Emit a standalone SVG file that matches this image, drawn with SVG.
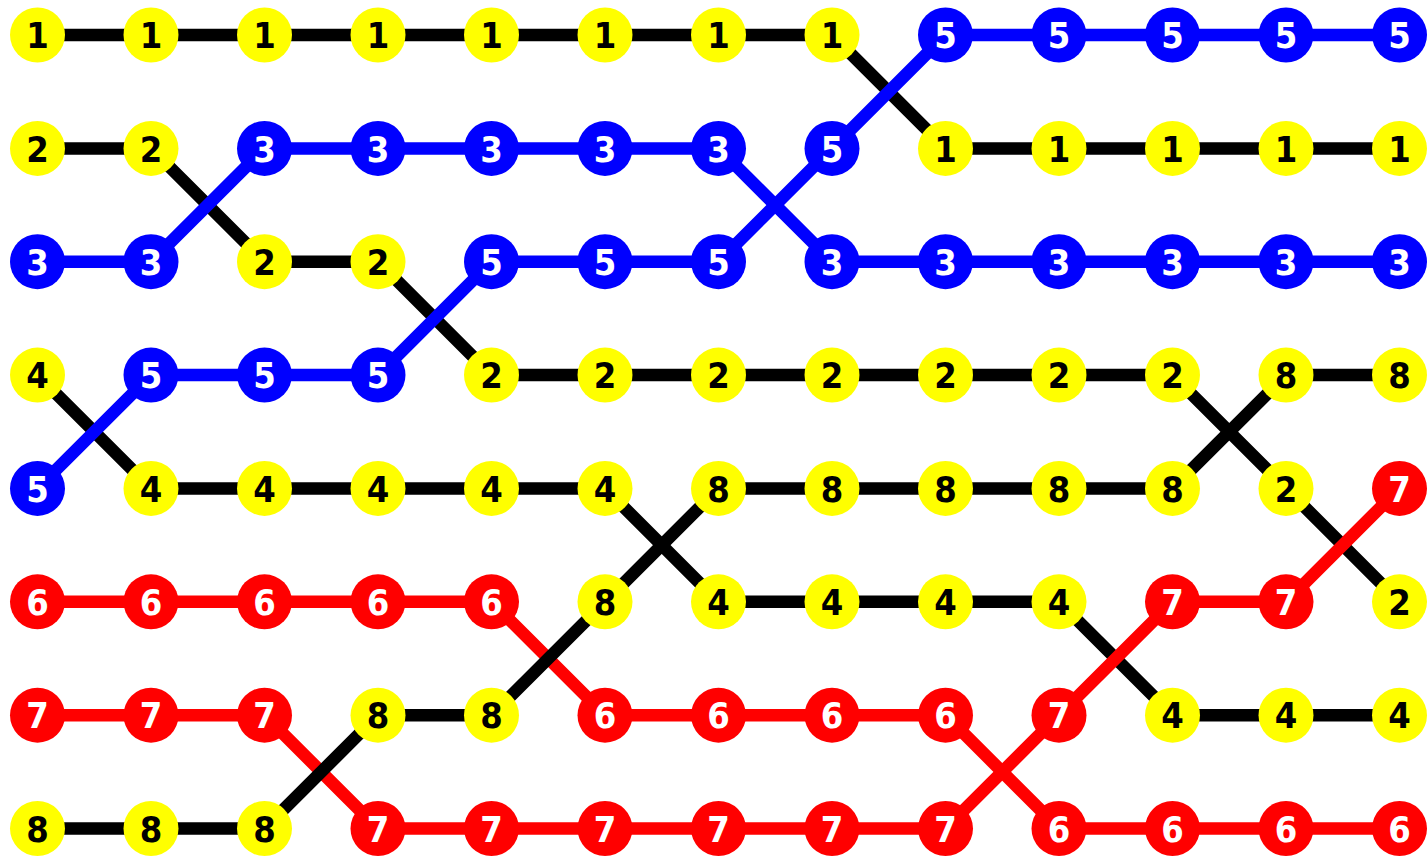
<svg xmlns="http://www.w3.org/2000/svg" width="1427" height="858" viewBox="0 0 1427 858">
<style>
.e{fill:none;stroke-width:12.5;stroke-linejoin:round}
.k{stroke:#000}.eb{stroke:#0000ff}.er{stroke:#ff0000}
text{font-family:"DejaVu Sans Condensed","DejaVu Sans",sans-serif;font-stretch:condensed;font-weight:bold;font-size:36px;text-anchor:middle}
.y circle{fill:#ffff00}.y text{fill:#000}
.b circle{fill:#0000ff}.b text{fill:#fff}
.r circle{fill:#ff0000}.r text{fill:#fff}
</style>
<rect width="1427" height="858" fill="#fff"/>
<g id="connectors">
<polyline class="e k" points="37.5,35 832,35 945.5,148.4 1399.5,148.4"/>
<polyline class="e k" points="37.5,148.4 151,148.4 264.5,261.7 378,261.7 491.5,375.1 1172.5,375.1 1286,488.4 1399.5,601.8"/>
<polyline class="e eb" points="37.5,261.7 151,261.7 264.5,148.4 718.5,148.4 832,261.7 1399.5,261.7"/>
<polyline class="e k" points="37.5,375.1 151,488.4 605,488.4 718.5,601.8 1059,601.8 1172.5,715.2 1399.5,715.2"/>
<polyline class="e eb" points="37.5,488.4 151,375.1 378,375.1 491.5,261.7 718.5,261.7 832,148.4 945.5,35 1399.5,35"/>
<polyline class="e er" points="37.5,601.8 491.5,601.8 605,715.2 945.5,715.2 1059,828.5 1399.5,828.5"/>
<polyline class="e er" points="37.5,715.2 264.5,715.2 378,828.5 945.5,828.5 1059,715.2 1172.5,601.8 1286,601.8 1399.5,488.4"/>
<polyline class="e k" points="37.5,828.5 264.5,828.5 378,715.2 491.5,715.2 605,601.8 718.5,488.4 1172.5,488.4 1286,375.1 1399.5,375.1"/>
</g>
<g id="nodes">
<g id="r0c0" class="y" transform="translate(37.5,35)"><circle r="27.5"/><text y="13.2">1</text></g>
<g id="r0c1" class="y" transform="translate(151,35)"><circle r="27.5"/><text y="13.2">1</text></g>
<g id="r0c2" class="y" transform="translate(264.5,35)"><circle r="27.5"/><text y="13.2">1</text></g>
<g id="r0c3" class="y" transform="translate(378,35)"><circle r="27.5"/><text y="13.2">1</text></g>
<g id="r0c4" class="y" transform="translate(491.5,35)"><circle r="27.5"/><text y="13.2">1</text></g>
<g id="r0c5" class="y" transform="translate(605,35)"><circle r="27.5"/><text y="13.2">1</text></g>
<g id="r0c6" class="y" transform="translate(718.5,35)"><circle r="27.5"/><text y="13.2">1</text></g>
<g id="r0c7" class="y" transform="translate(832,35)"><circle r="27.5"/><text y="13.2">1</text></g>
<g id="r0c8" class="b" transform="translate(945.5,35)"><circle r="27.5"/><text y="13.2">5</text></g>
<g id="r0c9" class="b" transform="translate(1059,35)"><circle r="27.5"/><text y="13.2">5</text></g>
<g id="r0c10" class="b" transform="translate(1172.5,35)"><circle r="27.5"/><text y="13.2">5</text></g>
<g id="r0c11" class="b" transform="translate(1286,35)"><circle r="27.5"/><text y="13.2">5</text></g>
<g id="r0c12" class="b" transform="translate(1399.5,35)"><circle r="27.5"/><text y="13.2">5</text></g>

<g id="r1c0" class="y" transform="translate(37.5,148.4)"><circle r="27.5"/><text y="13.2">2</text></g>
<g id="r1c1" class="y" transform="translate(151,148.4)"><circle r="27.5"/><text y="13.2">2</text></g>
<g id="r1c2" class="b" transform="translate(264.5,148.4)"><circle r="27.5"/><text y="13.2">3</text></g>
<g id="r1c3" class="b" transform="translate(378,148.4)"><circle r="27.5"/><text y="13.2">3</text></g>
<g id="r1c4" class="b" transform="translate(491.5,148.4)"><circle r="27.5"/><text y="13.2">3</text></g>
<g id="r1c5" class="b" transform="translate(605,148.4)"><circle r="27.5"/><text y="13.2">3</text></g>
<g id="r1c6" class="b" transform="translate(718.5,148.4)"><circle r="27.5"/><text y="13.2">3</text></g>
<g id="r1c7" class="b" transform="translate(832,148.4)"><circle r="27.5"/><text y="13.2">5</text></g>
<g id="r1c8" class="y" transform="translate(945.5,148.4)"><circle r="27.5"/><text y="13.2">1</text></g>
<g id="r1c9" class="y" transform="translate(1059,148.4)"><circle r="27.5"/><text y="13.2">1</text></g>
<g id="r1c10" class="y" transform="translate(1172.5,148.4)"><circle r="27.5"/><text y="13.2">1</text></g>
<g id="r1c11" class="y" transform="translate(1286,148.4)"><circle r="27.5"/><text y="13.2">1</text></g>
<g id="r1c12" class="y" transform="translate(1399.5,148.4)"><circle r="27.5"/><text y="13.2">1</text></g>

<g id="r2c0" class="b" transform="translate(37.5,261.7)"><circle r="27.5"/><text y="13.2">3</text></g>
<g id="r2c1" class="b" transform="translate(151,261.7)"><circle r="27.5"/><text y="13.2">3</text></g>
<g id="r2c2" class="y" transform="translate(264.5,261.7)"><circle r="27.5"/><text y="13.2">2</text></g>
<g id="r2c3" class="y" transform="translate(378,261.7)"><circle r="27.5"/><text y="13.2">2</text></g>
<g id="r2c4" class="b" transform="translate(491.5,261.7)"><circle r="27.5"/><text y="13.2">5</text></g>
<g id="r2c5" class="b" transform="translate(605,261.7)"><circle r="27.5"/><text y="13.2">5</text></g>
<g id="r2c6" class="b" transform="translate(718.5,261.7)"><circle r="27.5"/><text y="13.2">5</text></g>
<g id="r2c7" class="b" transform="translate(832,261.7)"><circle r="27.5"/><text y="13.2">3</text></g>
<g id="r2c8" class="b" transform="translate(945.5,261.7)"><circle r="27.5"/><text y="13.2">3</text></g>
<g id="r2c9" class="b" transform="translate(1059,261.7)"><circle r="27.5"/><text y="13.2">3</text></g>
<g id="r2c10" class="b" transform="translate(1172.5,261.7)"><circle r="27.5"/><text y="13.2">3</text></g>
<g id="r2c11" class="b" transform="translate(1286,261.7)"><circle r="27.5"/><text y="13.2">3</text></g>
<g id="r2c12" class="b" transform="translate(1399.5,261.7)"><circle r="27.5"/><text y="13.2">3</text></g>

<g id="r3c0" class="y" transform="translate(37.5,375.1)"><circle r="27.5"/><text y="13.2">4</text></g>
<g id="r3c1" class="b" transform="translate(151,375.1)"><circle r="27.5"/><text y="13.2">5</text></g>
<g id="r3c2" class="b" transform="translate(264.5,375.1)"><circle r="27.5"/><text y="13.2">5</text></g>
<g id="r3c3" class="b" transform="translate(378,375.1)"><circle r="27.5"/><text y="13.2">5</text></g>
<g id="r3c4" class="y" transform="translate(491.5,375.1)"><circle r="27.5"/><text y="13.2">2</text></g>
<g id="r3c5" class="y" transform="translate(605,375.1)"><circle r="27.5"/><text y="13.2">2</text></g>
<g id="r3c6" class="y" transform="translate(718.5,375.1)"><circle r="27.5"/><text y="13.2">2</text></g>
<g id="r3c7" class="y" transform="translate(832,375.1)"><circle r="27.5"/><text y="13.2">2</text></g>
<g id="r3c8" class="y" transform="translate(945.5,375.1)"><circle r="27.5"/><text y="13.2">2</text></g>
<g id="r3c9" class="y" transform="translate(1059,375.1)"><circle r="27.5"/><text y="13.2">2</text></g>
<g id="r3c10" class="y" transform="translate(1172.5,375.1)"><circle r="27.5"/><text y="13.2">2</text></g>
<g id="r3c11" class="y" transform="translate(1286,375.1)"><circle r="27.5"/><text y="13.2">8</text></g>
<g id="r3c12" class="y" transform="translate(1399.5,375.1)"><circle r="27.5"/><text y="13.2">8</text></g>

<g id="r4c0" class="b" transform="translate(37.5,488.4)"><circle r="27.5"/><text y="13.2">5</text></g>
<g id="r4c1" class="y" transform="translate(151,488.4)"><circle r="27.5"/><text y="13.2">4</text></g>
<g id="r4c2" class="y" transform="translate(264.5,488.4)"><circle r="27.5"/><text y="13.2">4</text></g>
<g id="r4c3" class="y" transform="translate(378,488.4)"><circle r="27.5"/><text y="13.2">4</text></g>
<g id="r4c4" class="y" transform="translate(491.5,488.4)"><circle r="27.5"/><text y="13.2">4</text></g>
<g id="r4c5" class="y" transform="translate(605,488.4)"><circle r="27.5"/><text y="13.2">4</text></g>
<g id="r4c6" class="y" transform="translate(718.5,488.4)"><circle r="27.5"/><text y="13.2">8</text></g>
<g id="r4c7" class="y" transform="translate(832,488.4)"><circle r="27.5"/><text y="13.2">8</text></g>
<g id="r4c8" class="y" transform="translate(945.5,488.4)"><circle r="27.5"/><text y="13.2">8</text></g>
<g id="r4c9" class="y" transform="translate(1059,488.4)"><circle r="27.5"/><text y="13.2">8</text></g>
<g id="r4c10" class="y" transform="translate(1172.5,488.4)"><circle r="27.5"/><text y="13.2">8</text></g>
<g id="r4c11" class="y" transform="translate(1286,488.4)"><circle r="27.5"/><text y="13.2">2</text></g>
<g id="r4c12" class="r" transform="translate(1399.5,488.4)"><circle r="27.5"/><text y="13.2">7</text></g>

<g id="r5c0" class="r" transform="translate(37.5,601.8)"><circle r="27.5"/><text y="13.2">6</text></g>
<g id="r5c1" class="r" transform="translate(151,601.8)"><circle r="27.5"/><text y="13.2">6</text></g>
<g id="r5c2" class="r" transform="translate(264.5,601.8)"><circle r="27.5"/><text y="13.2">6</text></g>
<g id="r5c3" class="r" transform="translate(378,601.8)"><circle r="27.5"/><text y="13.2">6</text></g>
<g id="r5c4" class="r" transform="translate(491.5,601.8)"><circle r="27.5"/><text y="13.2">6</text></g>
<g id="r5c5" class="y" transform="translate(605,601.8)"><circle r="27.5"/><text y="13.2">8</text></g>
<g id="r5c6" class="y" transform="translate(718.5,601.8)"><circle r="27.5"/><text y="13.2">4</text></g>
<g id="r5c7" class="y" transform="translate(832,601.8)"><circle r="27.5"/><text y="13.2">4</text></g>
<g id="r5c8" class="y" transform="translate(945.5,601.8)"><circle r="27.5"/><text y="13.2">4</text></g>
<g id="r5c9" class="y" transform="translate(1059,601.8)"><circle r="27.5"/><text y="13.2">4</text></g>
<g id="r5c10" class="r" transform="translate(1172.5,601.8)"><circle r="27.5"/><text y="13.2">7</text></g>
<g id="r5c11" class="r" transform="translate(1286,601.8)"><circle r="27.5"/><text y="13.2">7</text></g>
<g id="r5c12" class="y" transform="translate(1399.5,601.8)"><circle r="27.5"/><text y="13.2">2</text></g>

<g id="r6c0" class="r" transform="translate(37.5,715.2)"><circle r="27.5"/><text y="13.2">7</text></g>
<g id="r6c1" class="r" transform="translate(151,715.2)"><circle r="27.5"/><text y="13.2">7</text></g>
<g id="r6c2" class="r" transform="translate(264.5,715.2)"><circle r="27.5"/><text y="13.2">7</text></g>
<g id="r6c3" class="y" transform="translate(378,715.2)"><circle r="27.5"/><text y="13.2">8</text></g>
<g id="r6c4" class="y" transform="translate(491.5,715.2)"><circle r="27.5"/><text y="13.2">8</text></g>
<g id="r6c5" class="r" transform="translate(605,715.2)"><circle r="27.5"/><text y="13.2">6</text></g>
<g id="r6c6" class="r" transform="translate(718.5,715.2)"><circle r="27.5"/><text y="13.2">6</text></g>
<g id="r6c7" class="r" transform="translate(832,715.2)"><circle r="27.5"/><text y="13.2">6</text></g>
<g id="r6c8" class="r" transform="translate(945.5,715.2)"><circle r="27.5"/><text y="13.2">6</text></g>
<g id="r6c9" class="r" transform="translate(1059,715.2)"><circle r="27.5"/><text y="13.2">7</text></g>
<g id="r6c10" class="y" transform="translate(1172.5,715.2)"><circle r="27.5"/><text y="13.2">4</text></g>
<g id="r6c11" class="y" transform="translate(1286,715.2)"><circle r="27.5"/><text y="13.2">4</text></g>
<g id="r6c12" class="y" transform="translate(1399.5,715.2)"><circle r="27.5"/><text y="13.2">4</text></g>

<g id="r7c0" class="y" transform="translate(37.5,828.5)"><circle r="27.5"/><text y="13.2">8</text></g>
<g id="r7c1" class="y" transform="translate(151,828.5)"><circle r="27.5"/><text y="13.2">8</text></g>
<g id="r7c2" class="y" transform="translate(264.5,828.5)"><circle r="27.5"/><text y="13.2">8</text></g>
<g id="r7c3" class="r" transform="translate(378,828.5)"><circle r="27.5"/><text y="13.2">7</text></g>
<g id="r7c4" class="r" transform="translate(491.5,828.5)"><circle r="27.5"/><text y="13.2">7</text></g>
<g id="r7c5" class="r" transform="translate(605,828.5)"><circle r="27.5"/><text y="13.2">7</text></g>
<g id="r7c6" class="r" transform="translate(718.5,828.5)"><circle r="27.5"/><text y="13.2">7</text></g>
<g id="r7c7" class="r" transform="translate(832,828.5)"><circle r="27.5"/><text y="13.2">7</text></g>
<g id="r7c8" class="r" transform="translate(945.5,828.5)"><circle r="27.5"/><text y="13.2">7</text></g>
<g id="r7c9" class="r" transform="translate(1059,828.5)"><circle r="27.5"/><text y="13.2">6</text></g>
<g id="r7c10" class="r" transform="translate(1172.5,828.5)"><circle r="27.5"/><text y="13.2">6</text></g>
<g id="r7c11" class="r" transform="translate(1286,828.5)"><circle r="27.5"/><text y="13.2">6</text></g>
<g id="r7c12" class="r" transform="translate(1399.5,828.5)"><circle r="27.5"/><text y="13.2">6</text></g>
</g>
</svg>
